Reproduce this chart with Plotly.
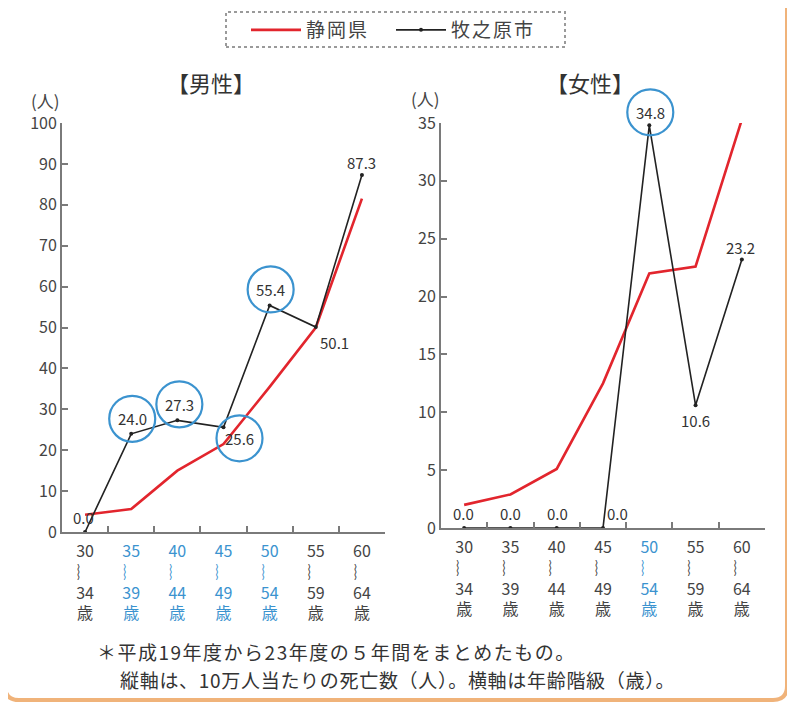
import plotly.graph_objects as go

W, H = 795, 708
OFF = 8  # page body margin in the browser
FONT = "Noto Sans CJK JP"

ages_from = ["30", "35", "40", "45", "50", "55", "60"]
ages_to = ["34", "39", "44", "49", "54", "59", "64"]
male_pref = [4.2, 5.6, 15.0, 21.5, 35.5, 50.0, 81.5]
male_city = [0.0, 24.0, 27.3, 25.6, 55.4, 50.1, 87.3]
female_pref = [2.0, 2.9, 5.1, 12.5, 22.0, 22.6, 35.3]
female_city = [0.0, 0.0, 0.0, 0.0, 34.8, 10.6, 23.2]
male_highlight = [1, 2, 3, 4]
female_highlight = [4]
male_yticks = [0, 10, 20, 30, 40, 50, 60, 70, 80, 90, 100]
female_yticks = [0, 5, 10, 15, 20, 25, 30, 35]
series_names = ["静岡県", "牧之原市"]

RED = "#e2252d"
BLK = "#222222"
BLUE = "#3b93cf"
GRAY = "#444444"
AX = "#7a7a7a"

WAVE = "︴"

def ticktext(highlight):
    out = []
    for i, (a, b) in enumerate(zip(ages_from, ages_to)):
        lines = [a, WAVE, b, "歳"]
        if i in highlight:
            lines = [f'<span style="color:{BLUE}">{l}</span>' for l in lines]
        out.append("<br>".join(lines))
    return out

def legend_name(n):
    return f'<span style="letter-spacing:2px">{n}</span>'

xs = list(range(len(ages_from)))

def px_x(p):
    return (p - OFF) / W

def px_y(p):
    return 1 - (p - OFF) / H

M_X0, M_X1, M_Y0, M_Y1 = 62, 385, 532, 123
F_X0, F_X1, F_Y0, F_Y1 = 441, 765, 528, 123
M_RANGE = [0, 100]
F_RANGE = [0, 35]
X_RANGE = [-0.5, 6.5]

def data_to_paper(xi, v, geom, yr):
    x0, x1, y0, y1 = geom
    px = x0 + (xi - X_RANGE[0]) / (X_RANGE[1] - X_RANGE[0]) * (x1 - x0)
    py = y0 + (v - yr[0]) / (yr[1] - yr[0]) * (y1 - y0)
    return px_x(px), px_y(py)

fig = go.Figure()
fig.add_trace(go.Scatter(x=xs, y=male_pref, mode="lines", name=legend_name(series_names[0]),
                         line=dict(color=RED, width=2.6), xaxis="x", yaxis="y",
                         cliponaxis=False))
fig.add_trace(go.Scatter(x=xs, y=male_city, mode="lines+markers",
                         name=legend_name(series_names[1]),
                         line=dict(color=BLK, width=1.6), marker=dict(size=4, color=BLK),
                         xaxis="x", yaxis="y", cliponaxis=False))
fig.add_trace(go.Scatter(x=xs, y=female_pref, mode="lines", name=series_names[0],
                         showlegend=False,
                         line=dict(color=RED, width=2.6), xaxis="x2", yaxis="y2",
                         cliponaxis=False))
fig.add_trace(go.Scatter(x=xs, y=female_city, mode="lines+markers", name=series_names[1],
                         showlegend=False,
                         line=dict(color=BLK, width=1.6), marker=dict(size=4, color=BLK),
                         xaxis="x2", yaxis="y2", cliponaxis=False))

axis_common = dict(showgrid=False, zeroline=False, showline=True, linecolor=AX, linewidth=2,
                   ticks="inside", tickcolor=AX, tickwidth=1.5, ticklen=6, automargin=False,
                   tickfont=dict(family=FONT, size=16, color=GRAY), fixedrange=True)
cat_common = dict(showline=False, showgrid=False, zeroline=False, ticks="", side="bottom",
                  automargin=False, range=X_RANGE, fixedrange=True, ticklabelstandoff=8,
                  tickfont=dict(family=FONT, size=16, color=GRAY))

fig.update_layout(
    width=W, height=H,
    margin=dict(l=0, r=0, t=0, b=0, autoexpand=False),
    paper_bgcolor="white", plot_bgcolor="rgba(0,0,0,0)",
    font=dict(family=FONT, color=GRAY),
    xaxis=dict(domain=[px_x(M_X0), px_x(M_X1)], range=X_RANGE, anchor="y",
               tickvals=[i + 0.5 for i in xs[:-1]], ticktext=[""] * 6, **axis_common),
    yaxis=dict(domain=[px_y(M_Y0), px_y(M_Y1)], range=M_RANGE, anchor="x",
               tickvals=male_yticks, **axis_common),
    xaxis2=dict(domain=[px_x(F_X0), px_x(F_X1)], range=X_RANGE, anchor="y2",
                tickvals=[i + 0.5 for i in xs[:-1]], ticktext=[""] * 6, **axis_common),
    yaxis2=dict(domain=[px_y(F_Y0), px_y(F_Y1)], range=F_RANGE, anchor="x2",
                tickvals=female_yticks, **axis_common),
    xaxis3=dict(domain=[px_x(M_X0), px_x(M_X1)], anchor="y", overlaying="x",
                tickvals=xs, ticktext=ticktext(male_highlight), **cat_common),
    xaxis4=dict(domain=[px_x(F_X0), px_x(F_X1)], anchor="y2", overlaying="x2",
                tickvals=xs, ticktext=ticktext(female_highlight), **cat_common),
    legend=dict(orientation="h", x=px_x(246), y=px_y(30), xanchor="left", yanchor="middle",
                font=dict(family=FONT, size=19, color=GRAY), bgcolor="rgba(0,0,0,0)",
                entrywidth=80, entrywidthmode="pixels", itemwidth=50),
    showlegend=True,
)

fig.add_trace(go.Scatter(x=[0], y=[0], xaxis="x3", yaxis="y", mode="markers",
                         marker=dict(opacity=0), showlegend=False, hoverinfo="skip"))
fig.add_trace(go.Scatter(x=[0], y=[0], xaxis="x4", yaxis="y2", mode="markers",
                         marker=dict(opacity=0), showlegend=False, hoverinfo="skip"))

shapes = []
shapes.append(dict(type="rect", xref="paper", yref="paper",
                   x0=px_x(226), x1=px_x(565), y0=px_y(47), y1=px_y(12),
                   line=dict(color="#9a9a9a", width=2, dash="dot")))
r = 14
L, R, B, T = 5, 787, 700, -20
path = (f"M {px_x(L)},{px_y(T)} L {px_x(L)},{px_y(B - r)} "
        f"Q {px_x(L)},{px_y(B)} {px_x(L + r)},{px_y(B)} "
        f"L {px_x(R - r)},{px_y(B)} Q {px_x(R)},{px_y(B)} {px_x(R)},{px_y(B - r)} "
        f"L {px_x(R)},{px_y(T)}")
shapes.append(dict(type="path", xref="paper", yref="paper", path=path,
                   line=dict(color="#f0b37a", width=4)))

M_GEOM = (M_X0, M_X1, M_Y0, M_Y1)
F_GEOM = (F_X0, F_X1, F_Y0, F_Y1)
circles = [(M_GEOM, M_RANGE, 1, male_city[1], 1, 15),
           (M_GEOM, M_RANGE, 2, male_city[2], 2, 16),
           (M_GEOM, M_RANGE, 3, male_city[3], 16, -11),
           (M_GEOM, M_RANGE, 4, male_city[4], 1, 16),
           (F_GEOM, F_RANGE, 4, female_city[4], 1, 13)]
rad = 23
for geom, yr, xi, yv, dx, dy in circles:
    ax_, ay_ = data_to_paper(xi, yv, geom, yr)
    shapes.append(dict(type="circle", xref="paper", yref="paper", xsizemode="pixel",
                       ysizemode="pixel", xanchor=ax_, yanchor=ay_, x0=dx - rad, x1=dx + rad,
                       y0=dy - rad, y1=dy + rad, line=dict(color=BLUE, width=2.2)))
fig.update_layout(shapes=shapes)

ann = []
def val_label(xr, yr, xi, v, dx, dy):
    ann.append(dict(x=xi, y=v, xref=xr, yref=yr, text=f"{v:.1f}", showarrow=False,
                    xanchor="center", yanchor="middle",
                    xshift=dx, yshift=dy, font=dict(family=FONT, size=15, color="#333333")))

male_off = [(-2, 15), (1, 15), (2, 16), (16, -11), (1, 16), (19, -15), (0, 12)]
female_off = [(-1, 15), (0, 15), (1, 15), (14, 15), (1, 13), (0, -15), (-1, 12)]
for i, v in enumerate(male_city):
    val_label("x", "y", i, v, *male_off[i])
for i, v in enumerate(female_city):
    val_label("x2", "y2", i, v, *female_off[i])

def text_ann(x, y, text, size, xanchor="center", color="#333333"):
    ann.append(dict(x=px_x(x), y=px_y(y), xref="paper", yref="paper", text=text,
                    showarrow=False, xanchor=xanchor, yanchor="middle",
                    font=dict(family=FONT, size=size, color=color)))

text_ann(211, 82, "【男性】", 22)
text_ann(590, 82, "【女性】", 22)
text_ann(45, 100, "(人)", 17, color=GRAY)
text_ann(425, 98, "(人)", 17, color=GRAY)
text_ann(95, 651, '<span style="letter-spacing:1.5px">＊平成19年度から23年度の５年間をまとめたもの。</span>',
         19, xanchor="left")
text_ann(118, 679, '<span style="letter-spacing:0.7px">縦軸は、10万人当たりの死亡数（人）。横軸は年齢階級（歳）。</span>',
         19, xanchor="left")
fig.update_layout(annotations=ann)

fig.write_html("out.html")
